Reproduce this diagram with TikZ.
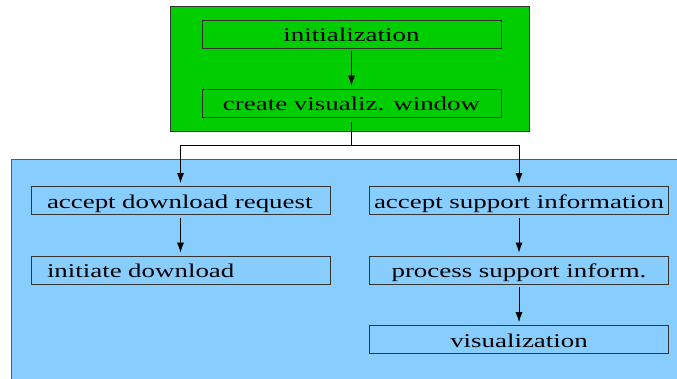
\documentclass[tikz,border=0pt]{standalone}
\usepackage{fontspec}
\setmainfont{Liberation Serif}[FakeStretch=1.38]
\usepackage{tikz}
\usetikzlibrary{arrows.meta,positioning,calc}
\usepackage{xcolor}
\definecolor{figgreen}{RGB}{0,206,0}
\definecolor{figblue}{RGB}{135,206,255}

\begin{document}
\begin{tikzpicture}[x=1pt,y=-1pt,
    box/.style={draw=black!80, line width=0.8pt, minimum width=299pt, minimum height=28pt,
        inner ysep=0pt, text height=16pt, text depth=0pt, font=\fontsize{19.5}{22}\selectfont},
    leftbox/.style={box, text width=267pt, inner xsep=16pt, align=left},
    flow/.style={line width=0.8pt, -{Latex[length=10pt,width=7pt]}, shorten >=3pt, shorten <=3pt}]
            \useasboundingbox (0,0) rectangle (677,379);
            \clip (0,0) rectangle (677,379);

            % Background blocks
            \draw[fill=figblue, draw=black!65, line width=0.8pt] (11,159) rectangle (700,400);
            \draw[fill=figgreen, draw=black!80, line width=0.8pt] (170,6) rectangle (529,131);

            % Start-up
            \node[box] (init) at (351.5,34) {initialization};
            \node[box] (create) at (351.5,103) {create visualiz. window};
            \draw[flow] (init) -- (create);

            % Download branch
            \node[leftbox] (acceptdl) at (180.5,200.5) {accept download request};
            \node[leftbox] (initdl) at (180.5,270) {initiate download};
            \draw[flow] (acceptdl) -- (initdl);

            % Support branch
            \node[box] (acceptsup) at (519,200.5) {accept support information};
            \node[box] (procsup) at (519,270) {process support inform.};
            \node[box] (visual) at (519,339.5) {visualization};
            \draw[flow] (acceptsup) -- (procsup);
            \draw[flow] (procsup) -- (visual);

            % Split
            \coordinate (split) at ($(create.south)+(0,28)$);
            \draw[line width=0.8pt, shorten <=5pt] (create.south) -- (split);
            \draw[flow, shorten <=0pt] (split) -| (acceptdl.north);
            \draw[flow, shorten <=0pt] (split) -| (acceptsup.north);
        \end{tikzpicture}
\end{document}
